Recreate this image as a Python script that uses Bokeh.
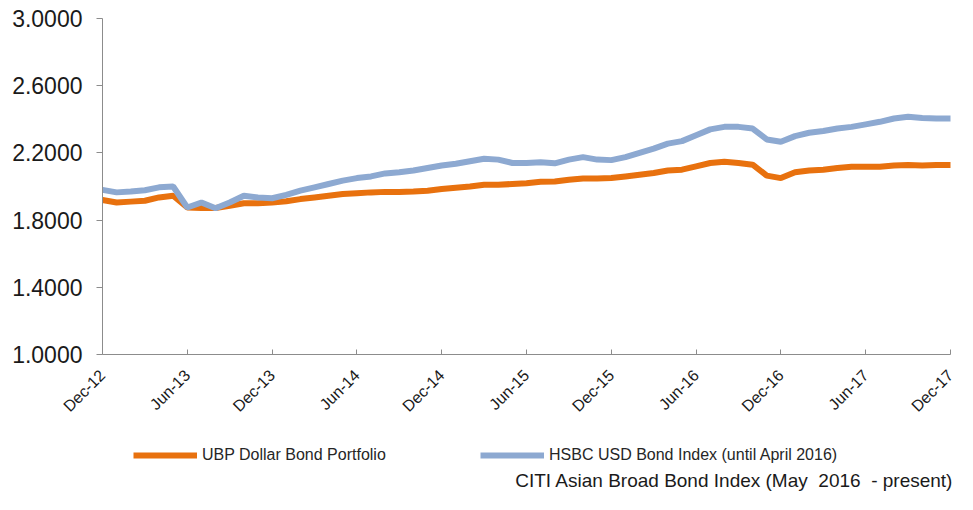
import math
from bokeh.plotting import figure
from bokeh.models import Range1d, FixedTicker, Legend, LegendItem, Label, NumeralTickFormatter, ColumnDataSource
from bokeh.embed import file_html
from bokeh.resources import INLINE

# Month index from Dec-12 (0) to Dec-17 (60)
months = list(range(61))

ubp = [1.920, 1.905, 1.910, 1.915, 1.935, 1.945, 1.875, 1.872, 1.872, 1.885,
       1.900, 1.900, 1.905, 1.912, 1.925, 1.935, 1.945, 1.955, 1.960, 1.965,
       1.968, 1.968, 1.970, 1.975, 1.985, 1.993, 2.000, 2.010, 2.010, 2.015,
       2.020, 2.028, 2.030, 2.040, 2.048, 2.048, 2.050, 2.060, 2.070, 2.080,
       2.095, 2.100, 2.120, 2.140, 2.147, 2.140, 2.130, 2.065, 2.050, 2.085,
       2.095, 2.100, 2.110, 2.118, 2.118, 2.118, 2.125, 2.128, 2.125, 2.128,
       2.128]

hsbc = [1.980, 1.965, 1.970, 1.978, 1.995, 2.000, 1.875, 1.905, 1.870, 1.905,
        1.945, 1.935, 1.930, 1.950, 1.975, 1.995, 2.015, 2.035, 2.050, 2.060,
        2.078, 2.085, 2.095, 2.110, 2.125, 2.135, 2.150, 2.165, 2.160, 2.140,
        2.140, 2.145, 2.138, 2.160, 2.175, 2.160, 2.157, 2.175, 2.200, 2.225,
        2.255, 2.270, 2.305, 2.340, 2.355, 2.355, 2.345, 2.280, 2.266, 2.300,
        2.320, 2.330, 2.345, 2.355, 2.370, 2.385, 2.405, 2.415, 2.408, 2.405,
        2.405]

tick_labels = ["Dec-12", "Jun-13", "Dec-13", "Jun-14", "Dec-14", "Jun-15",
               "Dec-15", "Jun-16", "Dec-16", "Jun-17", "Dec-17"]
y_ticks = [1.0, 1.4, 1.8, 2.2, 2.6, 3.0]
x_min, x_max = 0, 60
y_min, y_max = 1.0, 3.0

label_ubp = "UBP Dollar Bond Portfolio"
label_hsbc = "HSBC USD Bond Index (until April 2016)"
label_citi = "CITI Asian Broad Bond Index (May\u00a0\u00a02016\u00a0\u00a0- present)"

ORANGE = "#E8710E"
BLUE = "#8DA9D1"
AXIS = "#8C8C8C"
FONT = "Liberation Sans"

# layout in pixels: the frame covers the whole canvas, axes sit at fixed places
W, H = 957, 494
PX_L, PX_R = 102, 950      # pixel columns of x_min / x_max
PX_T, PX_B = 18, 354       # pixel rows of y_max / y_min
sx = (x_max - x_min) / (PX_R - PX_L)
sy = (y_max - y_min) / (PX_B - PX_T)
x_lo, x_hi = x_min - PX_L * sx, x_max + (W - PX_R) * sx
y_lo, y_hi = y_min - (H - PX_B) * sy, y_max + PX_T * sy

src = ColumnDataSource(dict(m=months, ubp=ubp, hsbc=hsbc))

p = figure(width=W, height=H, x_range=Range1d(x_lo, x_hi), y_range=Range1d(y_lo, y_hi),
           output_backend="svg", toolbar_location=None,
           min_border_left=0, min_border_right=0, min_border_top=0, min_border_bottom=0)
p.outline_line_color = None
p.grid.visible = False
p.background_fill_color = "white"
p.border_fill_color = "white"

r1 = p.line("m", "ubp", source=src, line_color=ORANGE, line_width=6)
r2 = p.line("m", "hsbc", source=src, line_color=BLUE, line_width=6)

tick_pos = [x_min + i * 6 for i in range(len(tick_labels))]
p.xaxis.fixed_location = y_min
p.xaxis.bounds = (x_min, x_max)
p.xaxis.ticker = FixedTicker(ticks=tick_pos)
p.xaxis.major_label_overrides = {t: l for t, l in zip(tick_pos, tick_labels)}
p.xaxis.major_label_orientation = math.pi / 4
p.xaxis.major_tick_in = 5
p.xaxis.major_tick_out = 0
p.xaxis.minor_tick_line_color = None
p.xaxis.major_label_standoff = 18
p.xaxis.major_label_text_font = FONT
p.xaxis.major_label_text_font_size = "16px"

p.yaxis.fixed_location = x_min
p.yaxis.bounds = (y_min, y_max)
p.yaxis.ticker = FixedTicker(ticks=y_ticks)
p.yaxis.formatter = NumeralTickFormatter(format="0.0000")
p.yaxis.major_tick_in = 0
p.yaxis.major_tick_out = 6
p.yaxis.minor_tick_line_color = None
p.yaxis.major_label_standoff = 14
p.yaxis.major_label_text_font = FONT
p.yaxis.major_label_text_font_size = "23px"

for ax in (p.xaxis, p.yaxis):
    ax.axis_line_color = AXIS
    ax.major_tick_line_color = AXIS
    ax.major_label_text_color = "#1a1a1a"

def make_legend(item, loc):
    return Legend(items=[item], location=loc, orientation="horizontal",
                  glyph_width=64, glyph_height=20, label_height=20, label_standoff=5,
                  padding=0, margin=0, border_line_color=None, background_fill_alpha=0,
                  label_text_font=FONT, label_text_font_size="16px", label_text_color="#262626")

leg1 = make_legend(LegendItem(label=label_ubp, renderers=[r1]), (133, 29))
leg2 = make_legend(LegendItem(label=label_hsbc, renderers=[r2]), (480, 29))
p.add_layout(leg1)
p.add_layout(leg2)

citi = Label(x=953, y=14, x_units="screen", y_units="screen", text=label_citi,
             text_align="right", text_baseline="alphabetic",
             text_font=FONT, text_font_size="19px", text_color="#1a1a1a")
p.add_layout(citi)

open("out.html", "w").write(file_html(p, INLINE))
